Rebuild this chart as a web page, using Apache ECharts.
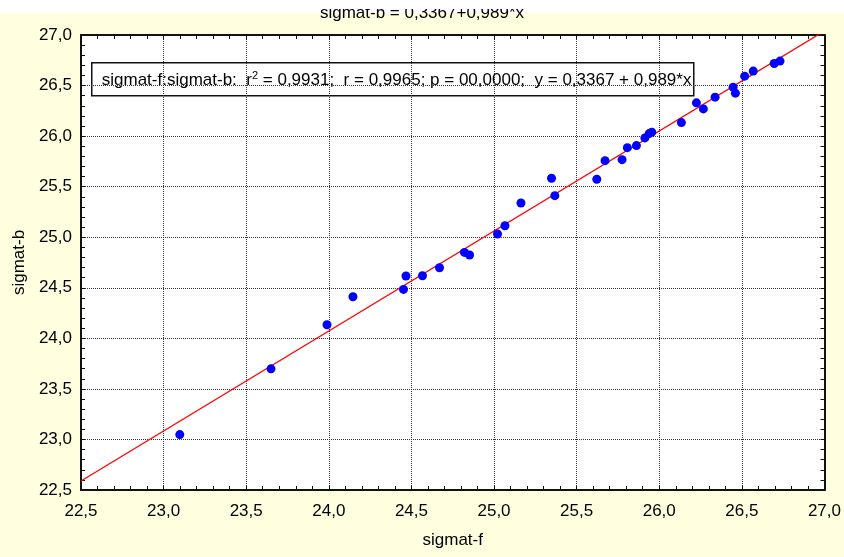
<!DOCTYPE html>
<html>
<head>
<meta charset="utf-8">
<script src="https://cdn.jsdelivr.net/npm/echarts@6/dist/echarts.min.js"></script>
<style>
  html, body { margin: 0; padding: 0; background: #ffffff; }
  #chart { width: 844px; height: 557px; }
</style>
</head>
<body>
<div id="chart"></div>
<script>
// sigmat-f (x) against sigmat-b (y)
const sigmatF = [
  23.098, 23.650, 23.989, 24.146, 24.452, 24.467, 24.567, 24.670, 24.821, 24.852,
  25.021, 25.066, 25.163, 25.348, 25.368, 25.622, 25.672, 25.775, 25.807, 25.862,
  25.913, 25.939, 25.955, 26.134, 26.225, 26.267, 26.338, 26.447, 26.461, 26.517,
  26.569, 26.696, 26.731
];
const sigmatB = [
  23.048, 23.698, 24.134, 24.411, 24.484, 24.616, 24.619, 24.698, 24.850, 24.824,
  25.032, 25.114, 25.339, 25.583, 25.411, 25.573, 25.757, 25.767, 25.886, 25.906,
  25.982, 26.025, 26.039, 26.134, 26.329, 26.269, 26.385, 26.484, 26.425, 26.593,
  26.643, 26.718, 26.742
];

// regression statistics
const intercept = 0.3367;
const slope = 0.989;
const rSquared = '0,9931';
const rValue = '0,9965';
const pValue = '00,0000';

// axis range and tick step
const axisMin = 22.5;
const axisMax = 27.0;
const tickStep = 0.5;

const FONT = '"Liberation Sans", Arial, sans-serif';
const comma = v => v.toFixed(1).replace('.', ',');
const dec = v => String(v).replace('.', ',');

const points = sigmatF.map((x, i) => [x, sigmatB[i]]);
const fitLine = [axisMin, axisMax].map(x => [x, intercept + slope * x]);

const frameLine = { show: true, onZero: false, lineStyle: { color: '#111', width: 2 } };
const tickIn = { show: true, inside: true, length: 4, lineStyle: { color: '#111', width: 1 } };
const minorIn = { show: true, splitNumber: 5, length: 4, lineStyle: { color: '#111', width: 1 } };
const dotted = { show: true, lineStyle: { color: '#333', type: [1, 1], width: 1 } };

const chart = echarts.init(document.getElementById('chart'), null, { renderer: 'canvas' });

chart.setOption({
  backgroundColor: '#ffffe0',
  animation: false,
  textStyle: { fontFamily: FONT },
  grid: { left: 81, right: 19, top: 35, bottom: 67, show: true, backgroundColor: '#ffffff', borderWidth: 0 },
  graphic: [
    // white header strip behind the title
    { type: 'rect', z: -10, left: 0, top: 0, shape: { width: 844, height: 13 }, style: { fill: '#ffffff' } },
    {
      type: 'text', z: 10, left: 'center', top: 5,
      style: { text: 'sigmat-b = ' + dec(intercept) + '+' + dec(slope) + '*x', font: '17px ' + FONT, fill: '#000' }
    },
    // the header band hides the upper part of the title
    { type: 'rect', z: 11, left: 0, top: 0, shape: { width: 844, height: 9 }, style: { fill: '#ffffff' } },
    {
      type: 'group', left: 91, top: 62, z: 20,
      children: [
        { type: 'rect', shape: { x: 0, y: 0, width: 602, height: 33 }, style: { fill: '#ffffff', stroke: '#111', lineWidth: 1.5 } },
        {
          type: 'text', x: 10, y: 8,
          style: {
            text: '{a|sigmat-f:sigmat-b:  r}{s|2}{a| = ' + rSquared + ';  r = ' + rValue + '; p = ' + pValue +
                  ';  y = ' + dec(intercept) + ' + ' + dec(slope) + '*x}',
            rich: {
              a: { fontSize: 17, fontFamily: FONT, fill: '#000', lineHeight: 20 },
              s: { fontSize: 11, fontFamily: FONT, fill: '#000', verticalAlign: 'top', lineHeight: 20 }
            }
          }
        }
      ]
    }
  ],
  xAxis: [
    {
      type: 'value', position: 'bottom', min: axisMin, max: axisMax, interval: tickStep,
      name: 'sigmat-f', nameLocation: 'middle', nameGap: 42,
      nameTextStyle: { fontSize: 17, color: '#000', fontFamily: FONT },
      axisLine: frameLine, axisTick: tickIn, minorTick: minorIn, splitLine: dotted,
      axisLabel: { fontSize: 17, color: '#000', margin: 13, formatter: comma, fontFamily: FONT }
    },
    {
      type: 'value', position: 'top', min: axisMin, max: axisMax, interval: tickStep,
      axisLine: frameLine, axisTick: tickIn, minorTick: minorIn, splitLine: { show: false },
      axisLabel: { show: false }
    }
  ],
  yAxis: [
    {
      type: 'value', position: 'left', min: axisMin, max: axisMax, interval: tickStep,
      name: 'sigmat-b', nameLocation: 'middle', nameGap: 52,
      nameTextStyle: { fontSize: 17, color: '#000', fontFamily: FONT },
      axisLine: frameLine, axisTick: tickIn, minorTick: minorIn, splitLine: dotted,
      axisLabel: { fontSize: 17, color: '#000', margin: 9, formatter: comma, fontFamily: FONT }
    },
    {
      type: 'value', position: 'right', min: axisMin, max: axisMax, interval: tickStep,
      axisLine: frameLine, axisTick: tickIn, minorTick: minorIn, splitLine: { show: false },
      axisLabel: { show: false }
    }
  ],
  series: [
    {
      type: 'line', data: fitLine, xAxisIndex: 0, yAxisIndex: 0,
      showSymbol: false, symbol: 'none', clip: true,
      lineStyle: { color: '#ff0000', width: 1.3 }, z: 3
    },
    {
      type: 'scatter', data: points, xAxisIndex: 0, yAxisIndex: 0,
      symbol: 'circle', symbolSize: 9, itemStyle: { color: '#0000ff', opacity: 1 }, z: 4
    }
  ]
});
</script>
</body>
</html>
